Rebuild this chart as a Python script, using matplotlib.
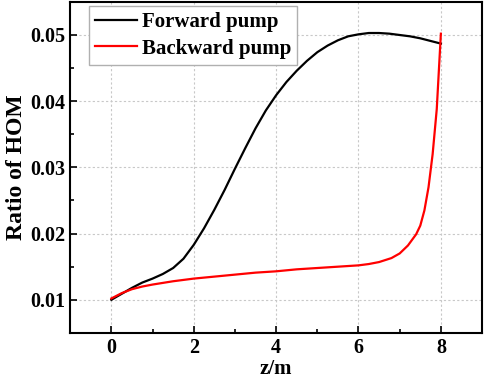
import matplotlib
matplotlib.use("Agg")
import matplotlib.pyplot as plt
from matplotlib.ticker import MultipleLocator

plt.rcParams['font.family'] = ['Liberation Serif', 'DejaVu Serif']
plt.rcParams['font.weight'] = 'bold'

# data
z_fwd = [0, 0.25, 0.5, 0.75, 1.0, 1.25, 1.5, 1.75, 2.0, 2.25, 2.5, 2.75, 3.0, 3.25,
         3.5, 3.75, 4.0, 4.25, 4.5, 4.75, 5.0, 5.25, 5.5, 5.75, 6.0, 6.25, 6.5,
         6.75, 7.0, 7.25, 7.5, 7.75, 8.0]
hom_fwd = [0.0100, 0.0109, 0.0118, 0.0126, 0.0132, 0.0139, 0.0148, 0.0162, 0.0183,
           0.0208, 0.0236, 0.0266, 0.0298, 0.0329, 0.0359, 0.0386, 0.0409, 0.0429,
           0.0446, 0.0461, 0.0474, 0.0484, 0.0492, 0.0498, 0.0501, 0.0503, 0.0503,
           0.0502, 0.0500, 0.0498, 0.0495, 0.0491, 0.0487]

z_bwd = [0, 0.25, 0.5, 0.75, 1.0, 1.5, 2.0, 2.5, 3.0, 3.5, 4.0, 4.5, 5.0, 5.5, 6.0,
         6.25, 6.5, 6.8, 7.0, 7.2, 7.4, 7.5, 7.6, 7.7, 7.8, 7.9, 8.0]
hom_bwd = [0.0102, 0.0110, 0.0116, 0.0120, 0.0123, 0.0128, 0.0132, 0.0135, 0.0138,
           0.0141, 0.0143, 0.0146, 0.0148, 0.0150, 0.0152, 0.0154, 0.0157, 0.0163,
           0.0170, 0.0182, 0.0199, 0.0212, 0.0235, 0.0270, 0.0320, 0.0388, 0.0502]

labels = ['Forward pump', 'Backward pump']

fig = plt.figure(figsize=(4.84, 3.80), dpi=100)
ax = fig.add_axes([0.145, 0.124, 0.851, 0.871])

ax.plot(z_fwd, hom_fwd, color='black', lw=1.6, label=labels[0])
ax.plot(z_bwd, hom_bwd, color='red', lw=1.6, label=labels[1])

ax.set_xlim(-1, 9)
ax.set_ylim(0.005, 0.055)
ax.xaxis.set_major_locator(MultipleLocator(2))
ax.xaxis.set_minor_locator(MultipleLocator(1))
ax.yaxis.set_major_locator(MultipleLocator(0.01))
ax.yaxis.set_minor_locator(MultipleLocator(0.005))
ax.yaxis.set_major_formatter(plt.FormatStrFormatter('%.2f'))

ax.grid(True, which='major', color='#c8c8c8', ls=(0, (2, 2)), lw=0.8)
ax.tick_params(which='both', direction='in', labelsize=14.5, width=1.2)
ax.tick_params(which='major', length=5)
ax.tick_params(which='minor', length=3)
for s in ax.spines.values():
    s.set_linewidth(1.5)

ax.set_xlabel('z/m', fontsize=15, fontweight='bold', labelpad=1)
ax.set_ylabel('Ratio of HOM', fontsize=17, fontweight='bold', labelpad=2)

leg = ax.legend(loc='upper left', bbox_to_anchor=(0.045, 0.987), fontsize=15,
                fancybox=False, edgecolor='#b0b0b0', framealpha=1,
                handlelength=2.0, handletextpad=0.25, borderpad=0.3,
                borderaxespad=0.0, labelspacing=0.3)
leg.get_frame().set_linewidth(1.0)

fig.savefig('out.png', dpi=100)
